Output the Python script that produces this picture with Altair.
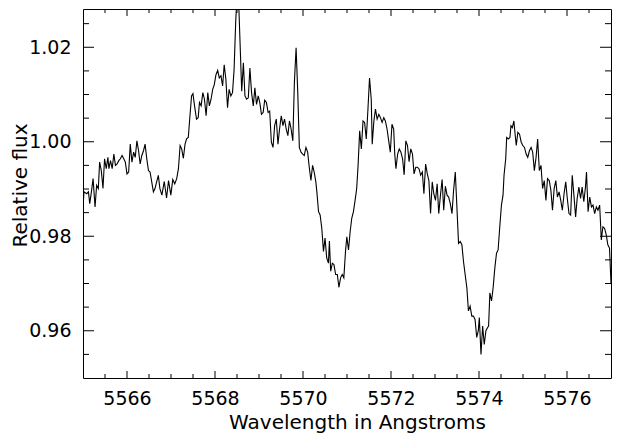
import altair as alt
import pandas as pd

# ---- data ----
wavelength = [
    5565.000, 5565.022, 5565.085, 5565.124, 5565.153, 5565.191, 5565.229, 5565.274, 5565.310, 5565.348,
    5565.378, 5565.416, 5565.454, 5565.490, 5565.528, 5565.566, 5565.589, 5565.625, 5565.663, 5565.701,
    5565.737, 5565.775, 5565.813, 5565.849, 5565.888, 5565.926, 5565.962, 5566.000, 5566.038, 5566.074,
    5566.112, 5566.151, 5566.187, 5566.225, 5566.263, 5566.299, 5566.337, 5566.375, 5566.411, 5566.449,
    5566.488, 5566.524, 5566.562, 5566.600, 5566.636, 5566.674, 5566.712, 5566.748, 5566.793, 5566.847,
    5566.899, 5566.944, 5566.996, 5567.040, 5567.085, 5567.130, 5567.169, 5567.207, 5567.243, 5567.281,
    5567.319, 5567.355, 5567.393, 5567.431, 5567.467, 5567.499, 5567.535, 5567.580, 5567.618, 5567.647,
    5567.685, 5567.724, 5567.760, 5567.798, 5567.836, 5567.872, 5567.910, 5567.948, 5567.984, 5568.022,
    5568.061, 5568.097, 5568.135, 5568.173, 5568.209, 5568.247, 5568.285, 5568.321, 5568.360, 5568.398,
    5568.434, 5568.472, 5568.521, 5568.607, 5568.645, 5568.681, 5568.719, 5568.757, 5568.793, 5568.831,
    5568.870, 5568.906, 5568.944, 5568.982, 5569.018, 5569.056, 5569.094, 5569.130, 5569.169, 5569.207,
    5569.243, 5569.281, 5569.319, 5569.355, 5569.393, 5569.431, 5569.467, 5569.506, 5569.544, 5569.580,
    5569.618, 5569.656, 5569.692, 5569.730, 5569.769, 5569.804, 5569.843, 5569.881, 5569.917, 5569.955,
    5569.993, 5570.029, 5570.067, 5570.106, 5570.142, 5570.180, 5570.218, 5570.254, 5570.292, 5570.315,
    5570.353, 5570.389, 5570.427, 5570.465, 5570.501, 5570.539, 5570.578, 5570.600, 5570.629, 5570.667,
    5570.703, 5570.742, 5570.780, 5570.816, 5570.854, 5570.892, 5570.928, 5570.966, 5570.996, 5571.034,
    5571.072, 5571.108, 5571.146, 5571.184, 5571.220, 5571.252, 5571.288, 5571.326, 5571.364, 5571.400,
    5571.438, 5571.476, 5571.512, 5571.551, 5571.573, 5571.611, 5571.647, 5571.685, 5571.724, 5571.760,
    5571.798, 5571.836, 5571.872, 5571.910, 5571.948, 5571.984, 5572.022, 5572.061, 5572.085, 5572.112,
    5572.151, 5572.187, 5572.225, 5572.263, 5572.299, 5572.337, 5572.375, 5572.411, 5572.449, 5572.488,
    5572.524, 5572.562, 5572.600, 5572.636, 5572.674, 5572.712, 5572.748, 5572.787, 5572.825, 5572.861,
    5572.899, 5572.937, 5572.973, 5573.011, 5573.049, 5573.085, 5573.124, 5573.162, 5573.198, 5573.236,
    5573.274, 5573.310, 5573.348, 5573.387, 5573.422, 5573.461, 5573.499, 5573.535, 5573.573, 5573.611,
    5573.647, 5573.685, 5573.724, 5573.760, 5573.798, 5573.836, 5573.872, 5573.910, 5573.948, 5573.984,
    5574.007, 5574.045, 5574.083, 5574.119, 5574.157, 5574.196, 5574.218, 5574.247, 5574.285, 5574.321,
    5574.360, 5574.398, 5574.434, 5574.472, 5574.510, 5574.546, 5574.569, 5574.607, 5574.629, 5574.667,
    5574.703, 5574.726, 5574.757, 5574.793, 5574.816, 5574.847, 5574.883, 5574.921, 5574.960, 5574.996,
    5575.034, 5575.072, 5575.108, 5575.146, 5575.184, 5575.220, 5575.258, 5575.297, 5575.333, 5575.371,
    5575.409, 5575.445, 5575.483, 5575.521, 5575.557, 5575.596, 5575.634, 5575.670, 5575.708, 5575.746,
    5575.782, 5575.820, 5575.858, 5575.894, 5575.933, 5575.971, 5576.007, 5576.045, 5576.083, 5576.119,
    5576.157, 5576.196, 5576.231, 5576.270, 5576.308, 5576.344, 5576.382, 5576.420, 5576.443, 5576.479,
    5576.517, 5576.555, 5576.591, 5576.629, 5576.667, 5576.703, 5576.742, 5576.780, 5576.816, 5576.854,
    5576.892, 5576.928, 5576.966, 5577.000,
]

flux = [
    0.9859, 0.9894, 0.9890, 0.9894, 0.9869, 0.9894, 0.9922, 0.9862, 0.9908, 0.9901,
    0.9957, 0.9939, 0.9901, 0.9964, 0.9943, 0.9967, 0.9943, 0.9960, 0.9943, 0.9974,
    0.9950, 0.9953, 0.9960, 0.9964, 0.9971, 0.9964, 0.9957, 0.9932, 0.9936, 0.9995,
    0.9957, 0.9978, 0.9967, 1.0002, 0.9981, 0.9953, 0.9971, 0.9981, 0.9995, 0.9964,
    0.9939, 0.9936, 0.9915, 0.9894, 0.9901, 0.9915, 0.9929, 0.9901, 0.9887, 0.9916,
    0.9881, 0.9918, 0.9887, 0.9920, 0.9911, 0.9922, 0.9943, 0.9992, 0.9985, 0.9965,
    0.9995, 1.0006, 1.0009, 1.0055, 1.0097, 1.0102, 1.0076, 1.0048, 1.0051, 1.0083,
    1.0076, 1.0104, 1.0090, 1.0055, 1.0104, 1.0076, 1.0090, 1.0111, 1.0121, 1.0142,
    1.0151, 1.0135, 1.0140, 1.0118, 1.0163, 1.0132, 1.0072, 1.0111, 1.0097, 1.0104,
    1.0153, 1.0258, 1.0342, 1.0107, 1.0167, 1.0097, 1.0090, 1.0093, 1.0156, 1.0104,
    1.0076, 1.0114, 1.0079, 1.0097, 1.0083, 1.0058, 1.0062, 1.0088, 1.0083, 1.0062,
    1.0065, 0.9999, 0.9988, 1.0034, 1.0048, 0.9995, 1.0027, 1.0055, 1.0034, 1.0048,
    1.0027, 1.0013, 1.0044, 1.0027, 1.0002, 1.0125, 1.0199, 1.0104, 0.9988, 0.9978,
    0.9974, 0.9971, 0.9988, 0.9978, 0.9946, 0.9918, 0.9950, 0.9936, 0.9915, 0.9894,
    0.9852, 0.9845, 0.9817, 0.9768, 0.9796, 0.9754, 0.9743, 0.9790, 0.9726, 0.9743,
    0.9740, 0.9719, 0.9719, 0.9692, 0.9712, 0.9719, 0.9712, 0.9768, 0.9799, 0.9771,
    0.9810, 0.9838, 0.9852, 0.9876, 0.9901, 0.9950, 1.0023, 0.9985, 1.0044, 1.0041,
    1.0006, 1.0069, 1.0135, 1.0090, 0.9995, 1.0044, 1.0069, 1.0048, 1.0058, 1.0051,
    1.0041, 1.0051, 1.0044, 1.0027, 1.0002, 0.9978, 1.0037, 1.0027, 0.9974, 0.9943,
    0.9974, 0.9985, 0.9978, 0.9964, 0.9930, 1.0002, 0.9992, 0.9958, 0.9985, 0.9974,
    0.9932, 0.9946, 0.9946, 0.9943, 0.9929, 0.9936, 0.9890, 0.9953, 0.9932, 0.9918,
    0.9848, 0.9915, 0.9890, 0.9876, 0.9911, 0.9848, 0.9887, 0.9920, 0.9855, 0.9906,
    0.9887, 0.9883, 0.9869, 0.9848, 0.9897, 0.9936, 0.9859, 0.9785, 0.9789, 0.9782,
    0.9747, 0.9719, 0.9691, 0.9642, 0.9652, 0.9631, 0.9631, 0.9624, 0.9586, 0.9600,
    0.9628, 0.9550, 0.9610, 0.9571, 0.9600, 0.9607, 0.9610, 0.9680, 0.9663, 0.9691,
    0.9733, 0.9764, 0.9771, 0.9820, 0.9866, 0.9887, 0.9929, 0.9964, 1.0009, 1.0006,
    1.0009, 1.0034, 1.0030, 1.0044, 1.0020, 0.9992, 1.0020, 1.0016, 0.9999, 0.9992,
    0.9988, 0.9974, 0.9967, 0.9981, 0.9988, 0.9978, 0.9939, 0.9967, 1.0006, 0.9939,
    0.9950, 0.9901, 0.9918, 0.9876, 0.9922, 0.9918, 0.9897, 0.9855, 0.9901, 0.9918,
    0.9883, 0.9894, 0.9876, 0.9855, 0.9890, 0.9915, 0.9880, 0.9848, 0.9845, 0.9929,
    0.9887, 0.9841, 0.9880, 0.9904, 0.9880, 0.9904, 0.9873, 0.9904, 0.9936, 0.9852,
    0.9883, 0.9862, 0.9866, 0.9848, 0.9862, 0.9855, 0.9866, 0.9792, 0.9820, 0.9817,
    0.9803, 0.9782, 0.9775, 0.9701,
]

x_major = [5566, 5568, 5570, 5572, 5574, 5576]
x_minor = [5565.5, 5566.5, 5567, 5567.5, 5568.5, 5569, 5569.5, 5570.5, 5571,
           5571.5, 5572.5, 5573, 5573.5, 5574.5, 5575, 5575.5, 5576.5]
y_major = [0.96, 0.98, 1.00, 1.02]
y_minor = [0.955, 0.965, 0.970, 0.975, 0.985, 0.990, 0.995, 1.005, 1.010, 1.015, 1.025]

assert len(wavelength) == len(flux), (len(wavelength), len(flux))

W, H = 528, 369
FONT = "DejaVu Sans"

spec = pd.DataFrame({"wavelength": wavelength, "flux": flux})
xmaj = pd.DataFrame({"wavelength": x_major})
xmin = pd.DataFrame({"wavelength": x_minor})
ymaj = pd.DataFrame({"flux": y_major})
ymin = pd.DataFrame({"flux": y_minor})

xscale = alt.Scale(domain=[5565, 5577], nice=False, zero=False)
yscale = alt.Scale(domain=[0.95, 1.0281], nice=False, zero=False)

xaxis = alt.Axis(
    values=x_major, format="d", ticks=False, domain=False, grid=False,
    labelPadding=11, labelFontSize=19, labelFont=FONT, labelColor="#000",
    title="Wavelength in Angstroms", titleFont=FONT, titleFontSize=20,
    titleFontWeight="normal", titleColor="#000",
    titleBaseline="alphabetic", titleAlign="center", titleX=274, titleY=50,
)
yaxis = alt.Axis(
    values=y_major, format=".2f", ticks=False, domain=False, grid=False,
    labelPadding=12, labelFontSize=19, labelFont=FONT, labelColor="#000",
    title="Relative flux", titleFont=FONT, titleFontSize=20,
    titleFontWeight="normal", titleColor="#000",
    titleBaseline="alphabetic", titleAlign="center", titleAngle=270,
    titleX=-57, titleY=176,
)

X = alt.X("wavelength:Q", scale=xscale, axis=xaxis)
Y = alt.Y("flux:Q", scale=yscale, axis=yaxis)

line = alt.Chart(spec).mark_line(color="#000", strokeWidth=1.1, clip=True).encode(x=X, y=Y)

def xticks(df, length):
    bottom = alt.Chart(df).mark_rule(color="#000", strokeWidth=1).encode(
        x=X, y=alt.value(H), y2=alt.value(H - length))
    top = alt.Chart(df).mark_rule(color="#000", strokeWidth=1).encode(
        x=X, y=alt.value(0), y2=alt.value(length))
    return [bottom, top]

def yticks(df, length):
    left = alt.Chart(df).mark_rule(color="#000", strokeWidth=1).encode(
        y=Y, x=alt.value(0), x2=alt.value(length))
    right = alt.Chart(df).mark_rule(color="#000", strokeWidth=1).encode(
        y=Y, x=alt.value(W), x2=alt.value(W - length))
    return [left, right]

layers = [line] + xticks(xmaj, 7) + xticks(xmin, 4) + yticks(ymaj, 11) + yticks(ymin, 6)

# svg: 75 + 528 + 2 = 605 wide, 1 + 369 + 55 = 425 tall (fits inside the 8px page margins)
chart = alt.layer(*layers).properties(
    width=W, height=H,
    padding={"left": 75, "top": 1, "right": 2, "bottom": 55},
    autosize="none",
    background="#ffffff",
).configure_view(stroke="#000", strokeWidth=1)

chart.save("out.html", embed_options={"renderer": "svg", "actions": False})
